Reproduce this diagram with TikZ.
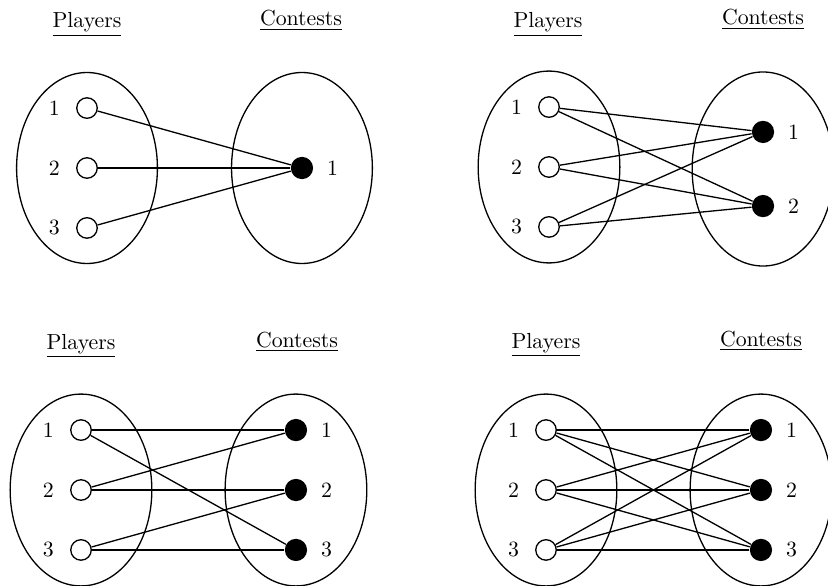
\documentclass[tikz,border=0pt]{standalone}
\usepackage{amsmath}
\usepackage{tikz}
\usetikzlibrary{positioning}
\tikzset{node distance=27.5pt, % Vertical gap between two players
player/.style={ % Sets the properties for each player
semithick, circle, draw, fill=white,
minimum size=9.4pt, inner sep=0pt},
contest/.style={ % Sets the properties for each contest
circle, fill=black,
minimum size=10.2pt, inner sep=0pt},
plabel/.style={label={[label distance=3.9pt]left:#1}}, % Number left of a player
clabel/.style={label={[label distance=2.7pt]right:#1}}, % Number right of a contest
title/.style={anchor=base}, % Underlined headings
group/.style={semithick}, % The two ovals of a panel
every edge/.style={ % Sets the properties for each link
draw, semithick}}

\begin{document}
\begin{tikzpicture}[x=0.4587pt, y=-0.4587pt]
    \useasboundingbox (0,0) rectangle (828,586);

    % one contest
    \node[title] (aP) at (87,28) {\underline{Players}};
    \node[title] (aC) at (301,26) {\underline{Contests}};
    \node[player, plabel=2] (a2) at (87,168) {};
    \node[player, above of=a2, plabel=1] (a1) {};
    \node[player, below of=a2, plabel=3] (a3) {};
    \node[contest, right of=a2, node distance=98.6pt, clabel=1] (ac1) {};
    \draw[group] (a2) ellipse [x radius=32.3pt, y radius=43.8pt];
    \draw[group] (ac1) ellipse [x radius=32.3pt, y radius=43.8pt];

    \draw (a1) edge (ac1);
    \draw (a2) edge (ac1);
    \draw (a3) edge (ac1);

    % two contests
    \node[title] (bP) at (548,28) {\underline{Players}};
    \node[title] (bC) at (763,25) {\underline{Contests}};
    \node[player, plabel=2] (b2) at (549,167) {};
    \node[player, above of=b2, plabel=1] (b1) {};
    \node[player, below of=b2, plabel=3] (b3) {};
    \coordinate (bc) at (763,169);
    \node[contest, above of=bc, node distance=17pt, clabel=1] (bc1) {};
    \node[contest, below of=bc, node distance=17pt, clabel=2] (bc2) {};
    \draw[group] (b2) ellipse [x radius=32.5pt, y radius=44pt];
    \draw[group] (bc) ellipse [x radius=32.5pt, y radius=44.5pt];

    \draw (b1) edge (bc1);
    \draw (b1) edge (bc2);
    \draw (b2) edge (bc1);
    \draw (b2) edge (bc2);
    \draw (b3) edge (bc1);
    \draw (b3) edge (bc2);

    % three contests
    \node[title] (cP) at (81,349) {\underline{Players}};
    \node[title] (cC) at (297,347) {\underline{Contests}};
    \node[player, plabel=2] (c2) at (81,490) {};
    \node[player, above of=c2, plabel=1] (c1) {};
    \node[player, below of=c2, plabel=3] (c3) {};
    \node[contest, right of=c2, node distance=98.6pt, clabel=2] (cc2) {};
    \node[contest, above of=cc2, clabel=1] (cc1) {};
    \node[contest, below of=cc2, clabel=3] (cc3) {};
    \draw[group] (c2) ellipse [x radius=32.5pt, y radius=44pt];
    \draw[group] (cc2) ellipse [x radius=32.5pt, y radius=44pt];

    \draw (c1) edge (cc1);
    \draw (c1) edge (cc3);
    \draw (c2) edge (cc1);
    \draw (c2) edge (cc2);
    \draw (c3) edge (cc2);
    \draw (c3) edge (cc3);

    % complete graph
    \node[title] (dP) at (546,348) {\underline{Players}};
    \node[title] (dC) at (761,346) {\underline{Contests}};
    \node[player, plabel=2] (d2) at (546,490) {};
    \node[player, above of=d2, plabel=1] (d1) {};
    \node[player, below of=d2, plabel=3] (d3) {};
    \node[contest, right of=d2, node distance=98.6pt, clabel=2] (dc2) {};
    \node[contest, above of=dc2, clabel=1] (dc1) {};
    \node[contest, below of=dc2, clabel=3] (dc3) {};
    \draw[group] (d2) ellipse [x radius=32.5pt, y radius=44pt];
    \draw[group] (dc2) ellipse [x radius=32.5pt, y radius=44pt];

    \draw (d1) edge (dc1);
    \draw (d1) edge (dc2);
    \draw (d1) edge (dc3);
    \draw (d2) edge (dc1);
    \draw (d2) edge (dc2);
    \draw (d2) edge (dc3);
    \draw (d3) edge (dc1);
    \draw (d3) edge (dc2);
    \draw (d3) edge (dc3);

\end{tikzpicture}
\end{document}
